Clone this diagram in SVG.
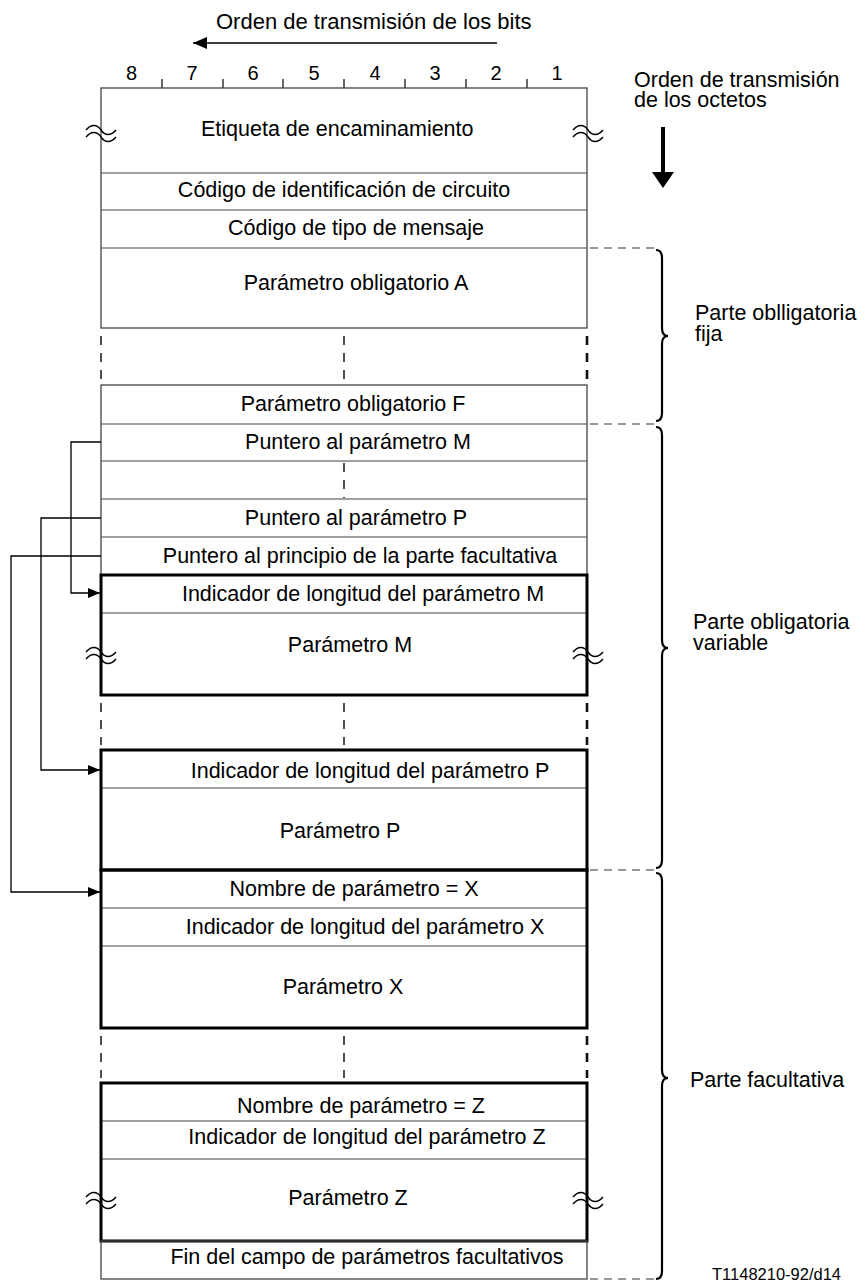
<svg xmlns="http://www.w3.org/2000/svg" width="865" height="1284" viewBox="0 0 865 1284">
  <style>
    text { font-family: "Liberation Sans", Arial, sans-serif; font-size: 21.5px; fill: #000; }
    .c { text-anchor: middle; }
    .num { font-size: 20px; text-anchor: middle; }
    .ref { font-size: 16.5px; }
    .thin { fill: none; stroke: #444; stroke-width: 1.3; }
    .row { stroke: #444; stroke-width: 1.2; }
    .bold { fill: none; stroke: #000; stroke-width: 3; }
    .gapdash { stroke: #222; stroke-width: 1.6; stroke-dasharray: 9 8; }
    .gapdash-r { stroke: #111; stroke-width: 2.6; stroke-dasharray: 9 8; }
    .lead { stroke: #777; stroke-width: 1.5; stroke-dasharray: 8 6; }
    .brace { fill: none; stroke: #000; stroke-width: 2.2; }
    .wave { fill: none; stroke: #000; stroke-width: 1.4; }
    .conn { fill: none; stroke: #000; stroke-width: 1.3; }
    .tick { stroke: #000; stroke-width: 1.2; }
  </style>
  <defs>
    <marker id="arr" markerWidth="12" markerHeight="10" refX="12" refY="5" orient="auto" markerUnits="userSpaceOnUse">
      <path d="M0,0 L12,5 L0,10 Z" fill="#000"/>
    </marker>
    <marker id="arrL" markerWidth="14" markerHeight="12" refX="14" refY="6" orient="auto" markerUnits="userSpaceOnUse">
      <path d="M0,0 L14,6 L0,12 Z" fill="#000"/>
    </marker>
    <!-- break mark drawn across a box edge -->
    <g id="brk">
      <path class="wave" d="M-15,-3 C-10,-9 -4,-9 0,-3 S10,3 15,-3"/>
      <path class="wave" d="M-15,4 C-10,-2 -4,-2 0,4 S10,10 15,4"/>
    </g>
  </defs>

  <!-- bit order header -->
  <g id="bit-order">
    <text x="216" y="29" style="font-size:22px">Orden de transmisión de los bits</text>
    <line x1="497" y1="43" x2="193" y2="43" stroke="#000" stroke-width="1.4" marker-end="url(#arrL)"/>
    <text class="num" x="131.5" y="80">8</text>
    <text class="num" x="192" y="80">7</text>
    <text class="num" x="253" y="80">6</text>
    <text class="num" x="314" y="80">5</text>
    <text class="num" x="375" y="80">4</text>
    <text class="num" x="435" y="80">3</text>
    <text class="num" x="496" y="80">2</text>
    <text class="num" x="557" y="80">1</text>
    <line class="tick" x1="162" y1="79" x2="162" y2="88"/>
    <line class="tick" x1="223" y1="79" x2="223" y2="88"/>
    <line class="tick" x1="283" y1="79" x2="283" y2="88"/>
    <line class="tick" x1="344" y1="79" x2="344" y2="88"/>
    <line class="tick" x1="405" y1="79" x2="405" y2="88"/>
    <line class="tick" x1="466" y1="79" x2="466" y2="88"/>
    <line class="tick" x1="527" y1="79" x2="527" y2="88"/>
  </g>

  <!-- octet order -->
  <g id="octet-order">
    <text x="634" y="87">Orden de transmisión</text>
    <text x="634" y="107">de los octetos</text>
    <line x1="663" y1="127" x2="663" y2="174" stroke="#000" stroke-width="4"/>
    <path d="M652,172 L674,172 L663,188 Z" fill="#000"/>
  </g>

  <!-- header fields -->
  <g id="routing-label">
    <rect class="thin" x="101" y="88" width="486" height="240"/>
    <text x="201" y="136">Etiqueta de encaminamiento</text>
    <use href="#brk" x="101" y="133"/>
    <use href="#brk" x="588" y="133"/>
  </g>
  <g id="cic">
    <line class="row" x1="101" y1="173" x2="587" y2="173"/>
    <text class="c" x="344" y="197">Código de identificación de circuito</text>
  </g>
  <g id="msg-type">
    <line class="row" x1="101" y1="210" x2="587" y2="210"/>
    <text class="c" x="356" y="235">Código de tipo de mensaje</text>
  </g>
  <g id="param-a">
    <line class="row" x1="101" y1="248" x2="587" y2="248"/>
    <text class="c" x="356" y="290">Parámetro obligatorio A</text>
  </g>

  <!-- omitted fields -->
  <g id="gap-1">
    <line class="gapdash" x1="101" y1="336" x2="101" y2="380"/>
    <line class="gapdash" x1="344" y1="336" x2="344" y2="380"/>
    <line class="gapdash-r" x1="587" y1="336" x2="587" y2="380"/>
  </g>

  <g id="param-f">
    <rect class="thin" x="101" y="385" width="486" height="190"/>
    <text class="c" x="353" y="411">Parámetro obligatorio F</text>
  </g>
  <g id="ptr-m">
    <line class="row" x1="101" y1="424" x2="587" y2="424"/>
    <text class="c" x="358" y="449">Puntero al parámetro M</text>
  </g>
  <g id="ptr-gap">
    <line class="row" x1="101" y1="461" x2="587" y2="461"/>
    <line class="gapdash" x1="344" y1="463" x2="344" y2="498"/>
  </g>
  <g id="ptr-p">
    <line class="row" x1="101" y1="499" x2="587" y2="499"/>
    <text class="c" x="356" y="525">Puntero al parámetro P</text>
  </g>
  <g id="ptr-opt">
    <line class="row" x1="101" y1="537" x2="587" y2="537"/>
    <text class="c" x="360" y="563">Puntero al principio de la parte facultativa</text>
  </g>

  <!-- parameter M -->
  <g id="param-m">
    <line class="row" x1="101" y1="613" x2="587" y2="613"/>
    <rect class="bold" x="101" y="575" width="486" height="120"/>
    <text class="c" x="363" y="601">Indicador de longitud del parámetro M</text>
    <text class="c" x="350" y="652">Parámetro M</text>
    <use href="#brk" x="101" y="655"/>
    <use href="#brk" x="588" y="655"/>
  </g>

  <g id="gap-2">
    <line class="gapdash" x1="101" y1="703" x2="101" y2="745"/>
    <line class="gapdash" x1="344" y1="703" x2="344" y2="745"/>
    <line class="gapdash-r" x1="587" y1="703" x2="587" y2="745"/>
  </g>

  <!-- parameter P -->
  <g id="param-p">
    <line class="row" x1="101" y1="788" x2="587" y2="788"/>
    <rect class="bold" x="101" y="750" width="486" height="120"/>
    <text class="c" x="370" y="778">Indicador de longitud del parámetro P</text>
    <text class="c" x="340" y="838">Parámetro P</text>
  </g>

  <!-- optional parameter X -->
  <g id="param-x">
    <line class="row" x1="101" y1="908" x2="587" y2="908"/>
    <line class="row" x1="101" y1="946" x2="587" y2="946"/>
    <rect class="bold" x="101" y="870" width="486" height="158"/>
    <text class="c" x="354" y="896">Nombre de parámetro = X</text>
    <text class="c" x="365" y="934">Indicador de longitud del parámetro X</text>
    <text class="c" x="343" y="994">Parámetro X</text>
  </g>

  <g id="gap-3">
    <line class="gapdash" x1="101" y1="1036" x2="101" y2="1078"/>
    <line class="gapdash" x1="344" y1="1036" x2="344" y2="1078"/>
    <line class="gapdash-r" x1="587" y1="1036" x2="587" y2="1078"/>
  </g>

  <!-- optional parameter Z -->
  <g id="param-z">
    <line class="row" x1="101" y1="1121" x2="587" y2="1121"/>
    <line class="row" x1="101" y1="1159" x2="587" y2="1159"/>
    <rect class="bold" x="101" y="1083" width="486" height="158"/>
    <text class="c" x="361" y="1113">Nombre de parámetro = Z</text>
    <text class="c" x="367" y="1144">Indicador de longitud del parámetro Z</text>
    <text class="c" x="348" y="1205">Parámetro Z</text>
    <use href="#brk" x="101" y="1200"/>
    <use href="#brk" x="588" y="1200"/>
  </g>

  <g id="end-of-optional">
    <rect class="thin" x="101" y="1241" width="486" height="38"/>
    <text class="c" x="367" y="1264">Fin del campo de parámetros facultativos</text>
  </g>

  <!-- pointers -->
  <g id="connectors">
    <path class="conn" d="M101,442 H71 V593 H100" marker-end="url(#arr)"/>
    <path class="conn" d="M101,518 H41 V770 H100" marker-end="url(#arr)"/>
    <path class="conn" d="M101,556 H11 V892 H100" marker-end="url(#arr)"/>
  </g>

  <!-- part braces -->
  <g id="part-fixed">
    <line class="lead" x1="590" y1="248" x2="656" y2="248"/>
    <path class="brace" d="M656,250 Q662,250 662,258 L662,328 Q662,336 668,336 Q662,336 662,344 L662,413 Q662,421 656,421"/>
    <text x="695" y="320">Parte oblligatoria</text>
    <text x="695" y="341">fija</text>
  </g>
  <g id="part-variable">
    <line class="lead" x1="590" y1="424" x2="656" y2="424"/>
    <path class="brace" d="M656,427 Q662,427 662,435 L662,640 Q662,648 668,648 Q662,648 662,656 L662,860 Q662,868 656,868"/>
    <text x="693" y="629">Parte obligatoria</text>
    <text x="693" y="650">variable</text>
  </g>
  <g id="part-optional">
    <line class="lead" x1="590" y1="870" x2="656" y2="870"/>
    <path class="brace" d="M656,873 Q662,873 662,881 L662,1070 Q662,1078 668,1078 Q662,1078 662,1086 L662,1271 Q662,1279 656,1279"/>
    <line class="lead" x1="590" y1="1279" x2="656" y2="1279"/>
    <text x="690" y="1087">Parte facultativa</text>
  </g>

  <text class="ref" x="712" y="1280">T1148210-92/d14</text>
</svg>
